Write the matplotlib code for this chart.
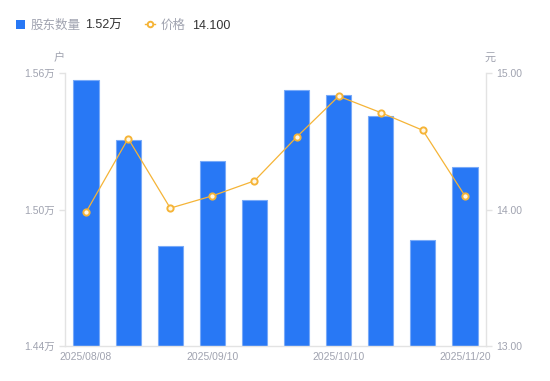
import matplotlib
matplotlib.use("Agg")
import matplotlib.pyplot as plt
from matplotlib.lines import Line2D
from matplotlib.patches import Rectangle

plt.rcParams['font.family'] = ['Liberation Sans', 'Noto Sans CJK SC', 'DejaVu Sans']

dates = ["2025/08/08", "2025/08/20", "2025/08/29", "2025/09/10", "2025/09/19",
         "2025/09/30", "2025/10/10", "2025/10/20", "2025/10/31", "2025/11/20"]
holders = [1.557, 1.5305, 1.484, 1.5213, 1.5042, 1.5525, 1.5503, 1.5411, 1.4866, 1.5187]
prices = [13.98, 14.52, 14.01, 14.10, 14.21, 14.53, 14.83, 14.71, 14.58, 14.10]
left_ticks = [1.44, 1.50, 1.56]
right_ticks = [13.0, 14.0, 15.0]

W, H = 550, 381
fig = plt.figure(figsize=(W/100, H/100), dpi=100)
ax = fig.add_axes([65/W, (H-346)/H, (486-65)/W, (346-73)/H])
ax2 = ax.twinx()

BLUE = "#2878f5"
ORANGE = "#f5b437"
GREY = "#a0a3b0"
AXC = "#e3e3e3"

x = list(range(len(dates)))
ax.bar(x, [h - left_ticks[0] for h in holders], bottom=left_ticks[0], width=0.6,
       color=BLUE, edgecolor="#79aaf8", linewidth=0.8, zorder=2)
ax.set_xlim(-0.5, len(dates) - 0.5)
ax.set_ylim(left_ticks[0], left_ticks[-1])
ax.set_yticks(left_ticks)
ax.set_yticklabels([f"{v:.2f}万" for v in left_ticks])
ax.set_xticks(x[::3])
ax.set_xticklabels(dates[::3])

ax2.plot(x, prices, color=ORANGE, linewidth=0.9, marker="o", markersize=4.5,
         markerfacecolor="#fff7e6", markeredgecolor=ORANGE, markeredgewidth=1.4, zorder=3)
ax2.set_ylim(right_ticks[0], right_ticks[-1])
ax2.set_yticks(right_ticks)
ax2.set_yticklabels([f"{v:.2f}" for v in right_ticks])

for a in (ax, ax2):
    for s in a.spines.values():
        s.set_color(AXC)
        s.set_linewidth(1)
    a.spines['top'].set_visible(False)
    a.tick_params(colors=AXC, labelcolor=GREY, labelsize=7.5, length=4, width=1)
ax.tick_params(axis='x', length=0, pad=4)
ax2.spines['left'].set_visible(False)
ax.spines['right'].set_visible(False)
ax2.spines['bottom'].set_visible(False)

fig.text(59/W, 1 - 58/H, "户", color=GREY, fontsize=8, ha='center', va='center')
fig.text(490/W, 1 - 58/H, "元", color=GREY, fontsize=8, ha='center', va='center')

# legend
ly = 1 - 24/H
ty = 1 - 26/H
fig.patches.append(Rectangle((16/W, 1 - 29/H), 9/W, 9/H, transform=fig.transFigure,
                             facecolor=BLUE, edgecolor="none"))
fig.text(31/W, ty, "股东数量", color=GREY, fontsize=9, va='center')
fig.text(85/W, ty, "1.52万", color="#333333", fontsize=9, va='center')
fig.lines.append(Line2D([145/W, 155/W], [ly, ly], transform=fig.transFigure,
                        color=ORANGE, linewidth=1))
fig.lines.append(Line2D([150/W], [ly], transform=fig.transFigure, color=ORANGE,
                        marker="o", markersize=4, markerfacecolor="white",
                        markeredgecolor=ORANGE, markeredgewidth=1.4))
fig.text(161/W, ty, "价格", color=GREY, fontsize=9, va='center')
fig.text(192/W, ty, "14.100", color="#333333", fontsize=9, va='center')

fig.savefig("out.png", dpi=100)
